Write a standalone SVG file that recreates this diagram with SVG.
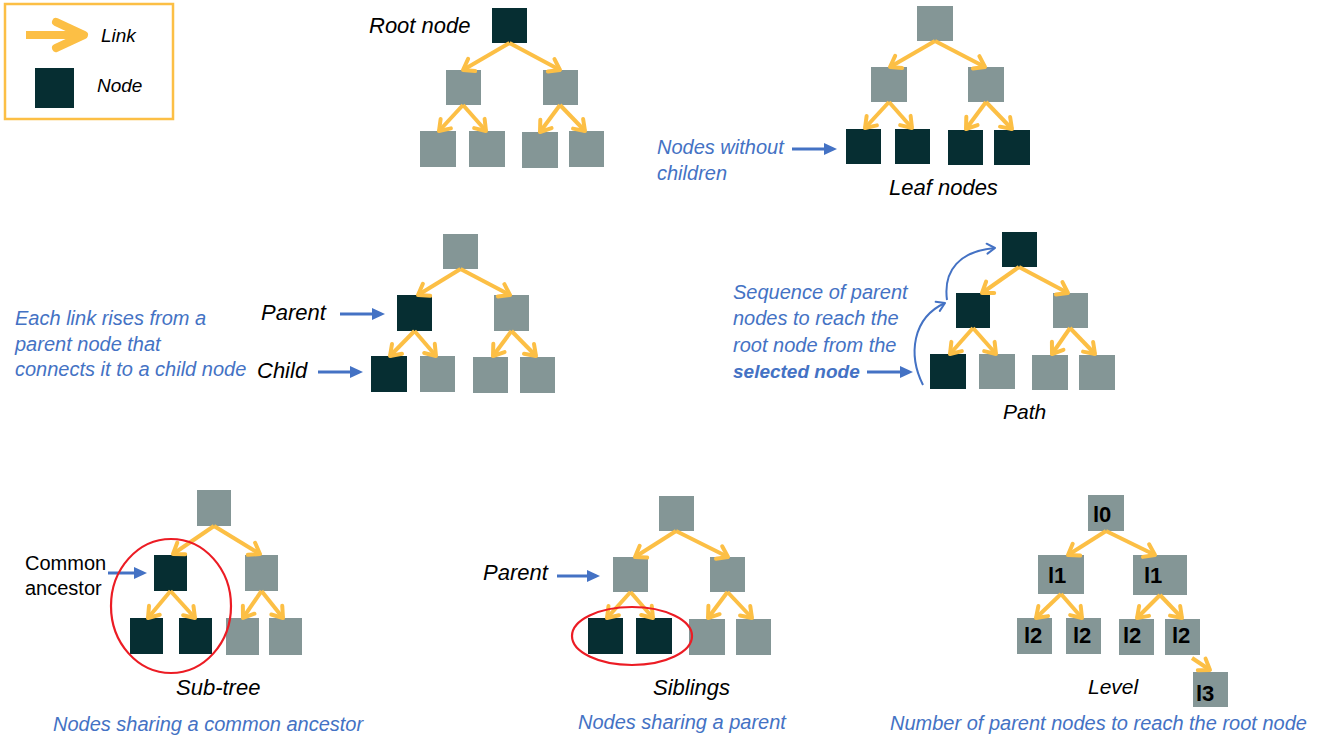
<svg xmlns="http://www.w3.org/2000/svg" width="1325" height="741" viewBox="0 0 1325 741">
<defs>
<style>
.dk{fill:#062E32}
.gr{fill:#849696}
.lk{stroke:#FCBF45;stroke-width:4;fill:none;marker-end:url(#ah)}
.bl{stroke:#4472C4;stroke-width:3;fill:none;marker-end:url(#bh)}
.cv{stroke:#4472C4;stroke-width:2;fill:none;marker-end:url(#ch)}
.lbl{font-family:"Liberation Sans",Arial,sans-serif;font-style:italic;font-size:22px;fill:#000}
.up{font-family:"Liberation Sans",Arial,sans-serif;font-size:20px;fill:#000}
.blt{font-family:"Liberation Sans",Arial,sans-serif;font-style:italic;font-size:20px;fill:#4472C4}
.lvl{font-family:"Liberation Sans",Arial,sans-serif;font-weight:bold;font-size:22px;fill:#000}
.ring{fill:none;stroke:#EC1C24;stroke-width:2.2}
</style>
<marker id="ah" markerUnits="userSpaceOnUse" viewBox="-15 -15 30 30" markerWidth="30" markerHeight="30" refX="0" refY="0" orient="auto" overflow="visible">
<path d="M-10,-7 L0,0 L-10,7" fill="none" stroke="#FCBF45" stroke-width="4" stroke-linecap="round" stroke-linejoin="round"/>
</marker>
<marker id="bh" markerUnits="userSpaceOnUse" viewBox="-15 -15 30 30" markerWidth="30" markerHeight="30" refX="0" refY="0" orient="auto" overflow="visible">
<path d="M-6,-6 L7,0 L-6,6 Z" fill="#4472C4"/>
</marker>
<marker id="ch" markerUnits="userSpaceOnUse" viewBox="-15 -15 30 30" markerWidth="30" markerHeight="30" refX="0" refY="0" orient="auto" overflow="visible">
<path d="M-8,-5 L0,0 L-8,5" fill="none" stroke="#4472C4" stroke-width="2" stroke-linecap="round" stroke-linejoin="round"/>
</marker>
</defs>
<rect width="1325" height="741" fill="#fff"/>

<g id="legend">
<rect x="5" y="4" width="168" height="115" fill="none" stroke="#FCBF45" stroke-width="2.5"/>
<path d="M26,35 H82" stroke="#FCBF45" stroke-width="8" fill="none"/>
<path d="M56,22 L84,35 L56,48" stroke="#FCBF45" stroke-width="8" fill="none" stroke-linecap="round" stroke-linejoin="round"/>
<text class="lbl" x="101" y="42" style="font-size:19px">Link</text>
<rect class="dk" x="35" y="68" width="39" height="40"/>
<text class="lbl" x="97" y="92" style="font-size:19px">Node</text>
</g>

<!-- Tree 1: Root node -->
<g id="t1-root"><rect class="dk" x="492" y="8" width="35" height="35"/></g>
<g id="t1-a"><rect class="gr" x="446" y="70" width="35" height="35"/></g>
<g id="t1-b"><rect class="gr" x="543" y="70" width="35" height="35"/></g>
<g id="t1-l1"><rect class="gr" x="420" y="131" width="36" height="36"/></g>
<g id="t1-l2"><rect class="gr" x="469" y="131" width="36" height="36"/></g>
<g id="t1-l3"><rect class="gr" x="522" y="132" width="36" height="36"/></g>
<g id="t1-l4"><rect class="gr" x="569" y="131" width="35" height="36"/></g>
<text class="lbl" x="369" y="33">Root node</text>

<!-- Tree 2: Leaf nodes -->
<g id="t2-root"><rect class="gr" x="917" y="6" width="36" height="35"/></g>
<g id="t2-a"><rect class="gr" x="871" y="67" width="36" height="35"/></g>
<g id="t2-b"><rect class="gr" x="968" y="67" width="36" height="35"/></g>
<g id="t2-l1"><rect class="dk" x="846" y="129" width="35" height="35"/></g>
<g id="t2-l2"><rect class="dk" x="895" y="129" width="35" height="35"/></g>
<g id="t2-l3"><rect class="dk" x="948" y="130" width="35" height="35"/></g>
<g id="t2-l4"><rect class="dk" x="994" y="130" width="36" height="35"/></g>
<text class="blt" x="657" y="154">Nodes without</text>
<text class="blt" x="657" y="180">children</text>
<text class="lbl" x="889" y="195">Leaf nodes</text>

<!-- Tree 3: Parent / Child -->
<g id="t3-root"><rect class="gr" x="443" y="234" width="35" height="35"/></g>
<g id="t3-a"><rect class="dk" x="397" y="295" width="35" height="36"/></g>
<g id="t3-b"><rect class="gr" x="494" y="295" width="35" height="36"/></g>
<g id="t3-l1"><rect class="dk" x="371" y="356" width="36" height="36"/></g>
<g id="t3-l2"><rect class="gr" x="420" y="356" width="35" height="36"/></g>
<g id="t3-l3"><rect class="gr" x="473" y="357" width="35" height="36"/></g>
<g id="t3-l4"><rect class="gr" x="520" y="357" width="35" height="36"/></g>
<text class="blt" x="15" y="325">Each link rises from a</text>
<text class="blt" x="15" y="351">parent node that</text>
<text class="blt" x="15" y="376">connects it to a child node</text>
<text class="lbl" x="261" y="320">Parent</text>
<text class="lbl" x="257" y="378">Child</text>

<!-- Tree 4: Path -->
<g id="t4-root"><rect class="dk" x="1002" y="232" width="35" height="35"/></g>
<g id="t4-a"><rect class="dk" x="956" y="293" width="34" height="35"/></g>
<g id="t4-b"><rect class="gr" x="1053" y="293" width="35" height="35"/></g>
<g id="t4-l1"><rect class="dk" x="930" y="354" width="36" height="35"/></g>
<g id="t4-l2"><rect class="gr" x="979" y="354" width="36" height="35"/></g>
<g id="t4-l3"><rect class="gr" x="1032" y="355" width="36" height="35"/></g>
<g id="t4-l4"><rect class="gr" x="1079" y="355" width="36" height="35"/></g>
<text class="blt" x="733" y="299">Sequence of parent</text>
<text class="blt" x="733" y="325">nodes to reach the</text>
<text class="blt" x="733" y="352">root node from the</text>
<text class="blt" x="733" y="378" style="font-weight:bold;font-size:19px">selected node</text>
<text class="lbl" x="1003" y="419" style="font-size:21px">Path</text>

<!-- Tree 5: Sub-tree -->
<g id="t5-root"><rect class="gr" x="197" y="490" width="34" height="36"/></g>
<g id="t5-a"><rect class="dk" x="154" y="555" width="33" height="36"/></g>
<g id="t5-b"><rect class="gr" x="245" y="555" width="33" height="36"/></g>
<g id="t5-l1"><rect class="dk" x="130" y="618" width="33" height="36"/></g>
<g id="t5-l2"><rect class="dk" x="179" y="618" width="33" height="36"/></g>
<g id="t5-l3"><rect class="gr" x="226" y="618" width="33" height="37"/></g>
<g id="t5-l4"><rect class="gr" x="269" y="618" width="33" height="37"/></g>
<text class="up" x="25" y="570">Common</text>
<text class="up" x="25" y="595">ancestor</text>
<text class="lbl" x="176" y="695">Sub-tree</text>
<text class="blt" x="53" y="731">Nodes sharing a common ancestor</text>

<!-- Tree 6: Siblings -->
<g id="t6-root"><rect class="gr" x="659" y="496" width="35" height="35"/></g>
<g id="t6-a"><rect class="gr" x="613" y="557" width="35" height="35"/></g>
<g id="t6-b"><rect class="gr" x="710" y="557" width="35" height="35"/></g>
<g id="t6-l1"><rect class="dk" x="588" y="618" width="35" height="36"/></g>
<g id="t6-l2"><rect class="dk" x="636" y="618" width="36" height="36"/></g>
<g id="t6-l3"><rect class="gr" x="689" y="619" width="36" height="36"/></g>
<g id="t6-l4"><rect class="gr" x="736" y="619" width="35" height="36"/></g>
<text class="lbl" x="483" y="580">Parent</text>
<text class="lbl" x="653" y="695">Siblings</text>
<text class="blt" x="578" y="729">Nodes sharing a parent</text>

<!-- Tree 7: Level -->
<g id="t7-l0"><rect class="gr" x="1088" y="495" width="36" height="36"/><text class="lvl" x="1093" y="522">l0</text></g>
<g id="t7-l1a"><rect class="gr" x="1038" y="555" width="46" height="39"/><text class="lvl" x="1048" y="583">l1</text></g>
<g id="t7-l1b"><rect class="gr" x="1133" y="555" width="54" height="40"/><text class="lvl" x="1144" y="583">l1</text></g>
<g id="t7-l2a"><rect class="gr" x="1017" y="618" width="35" height="36"/><text class="lvl" x="1024" y="643">l2</text></g>
<g id="t7-l2b"><rect class="gr" x="1066" y="618" width="35" height="36"/><text class="lvl" x="1073" y="643">l2</text></g>
<g id="t7-l2c"><rect class="gr" x="1119" y="619" width="35" height="36"/><text class="lvl" x="1123" y="643">l2</text></g>
<g id="t7-l2d"><rect class="gr" x="1165" y="619" width="35" height="36"/><text class="lvl" x="1172" y="643">l2</text></g>
<g id="t7-l3"><rect class="gr" x="1193" y="672" width="35" height="35"/><text class="lvl" x="1196" y="701">l3</text></g>
<text class="lbl" x="1088" y="694" style="font-size:21px">Level</text>
<text class="blt" x="890" y="730">Number of parent nodes to reach the root node</text>

<g id="connectors">
<!-- tree 1 -->
<line class="lk" x1="509.5" y1="43" x2="463" y2="70"/>
<line class="lk" x1="509.5" y1="43" x2="560" y2="70"/>
<line class="lk" x1="463" y1="105" x2="439" y2="131"/>
<line class="lk" x1="463" y1="105" x2="486" y2="131"/>
<line class="lk" x1="560" y1="105" x2="540" y2="132"/>
<line class="lk" x1="560" y1="105" x2="585" y2="131"/>
<!-- tree 2 -->
<line class="lk" x1="935" y1="41" x2="890" y2="67"/>
<line class="lk" x1="935" y1="41" x2="985" y2="67"/>
<line class="lk" x1="889" y1="102" x2="865" y2="128"/>
<line class="lk" x1="889" y1="102" x2="912" y2="128"/>
<line class="lk" x1="986" y1="102" x2="966" y2="129"/>
<line class="lk" x1="986" y1="102" x2="1012" y2="129"/>
<!-- tree 3 -->
<line class="lk" x1="460.5" y1="269" x2="418" y2="295"/>
<line class="lk" x1="460.5" y1="269" x2="510" y2="295"/>
<line class="lk" x1="414.5" y1="331" x2="390" y2="356"/>
<line class="lk" x1="414.5" y1="331" x2="436" y2="356"/>
<line class="lk" x1="511.5" y1="331" x2="493" y2="356"/>
<line class="lk" x1="511.5" y1="331" x2="536" y2="356"/>
<!-- tree 4 -->
<line class="lk" x1="1019" y1="267" x2="982" y2="293"/>
<line class="lk" x1="1019" y1="267" x2="1068" y2="293"/>
<line class="lk" x1="973" y1="328" x2="950" y2="354"/>
<line class="lk" x1="973" y1="328" x2="996" y2="354"/>
<line class="lk" x1="1070" y1="328" x2="1052" y2="354"/>
<line class="lk" x1="1070" y1="328" x2="1095" y2="354"/>
<!-- tree 5 -->
<line class="lk" x1="214" y1="526" x2="173" y2="554"/>
<line class="lk" x1="214" y1="526" x2="260" y2="554"/>
<line class="lk" x1="170.5" y1="591" x2="148" y2="618"/>
<line class="lk" x1="170.5" y1="591" x2="195" y2="618"/>
<line class="lk" x1="261.5" y1="591" x2="243" y2="618"/>
<line class="lk" x1="261.5" y1="591" x2="283" y2="618"/>
<!-- tree 6 -->
<line class="lk" x1="676" y1="531" x2="635" y2="557"/>
<line class="lk" x1="676" y1="531" x2="728" y2="557"/>
<line class="lk" x1="630.5" y1="592" x2="607" y2="618"/>
<line class="lk" x1="630.5" y1="592" x2="653" y2="618"/>
<line class="lk" x1="727.5" y1="592" x2="708" y2="618"/>
<line class="lk" x1="727.5" y1="592" x2="752" y2="618"/>
<!-- tree 7 -->
<line class="lk" x1="1106" y1="531" x2="1068" y2="555"/>
<line class="lk" x1="1106" y1="531" x2="1155" y2="555"/>
<line class="lk" x1="1061" y1="594" x2="1036" y2="618"/>
<line class="lk" x1="1061" y1="594" x2="1082" y2="618"/>
<line class="lk" x1="1160" y1="595" x2="1137" y2="618"/>
<line class="lk" x1="1160" y1="595" x2="1182" y2="618"/>
<line class="lk" x1="1192" y1="658" x2="1210" y2="670"/>
<!-- blue pointers -->
<line class="bl" x1="792" y1="149" x2="830" y2="149"/>
<line class="bl" x1="340" y1="314" x2="378" y2="314"/>
<line class="bl" x1="318" y1="372" x2="356" y2="372"/>
<line class="bl" x1="867" y1="372" x2="906" y2="372"/>
<line class="bl" x1="108" y1="573" x2="140" y2="573"/>
<line class="bl" x1="557" y1="576" x2="593" y2="576"/>
<path class="cv" d="M923,385 C908,355 912,318 945,303"/>
<path class="cv" d="M947,300 C943,270 960,251 995,248"/>
<!-- highlight rings -->
<ellipse class="ring" cx="171" cy="606" rx="60" ry="67"/>
<ellipse class="ring" cx="632" cy="636" rx="60" ry="29"/>
</g>
</svg>
